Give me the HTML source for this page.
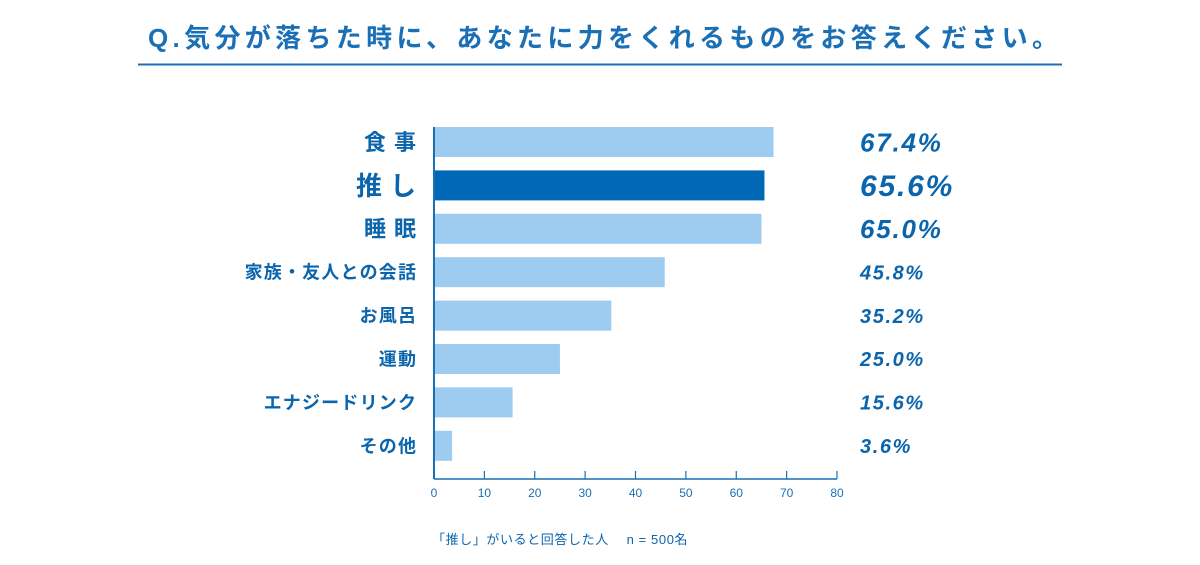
<!DOCTYPE html>
<html><head><meta charset="utf-8"><style>
body{margin:0;background:#fff;}
svg text{font-family:"Liberation Sans","Noto Sans CJK JP",sans-serif;}
</style></head><body>
<svg id="chart" width="1200" height="560" xmlns="http://www.w3.org/2000/svg">
<text x="148" y="47" font-size="26" font-weight="bold" fill="#1a6fb5" textLength="910" lengthAdjust="spacing">Q.気分が落ちた時に、あなたに力をくれるものをお答えください。</text>
<line x1="138" y1="64.5" x2="1062" y2="64.5" stroke="#1a6fb5" stroke-width="2"/>
<g id="bars"></g>
<text x="432" y="544" font-size="13" fill="#0b65ad" letter-spacing="0.6">「推し」がいると回答した人　 n = 500名</text>
</svg>
<script>
const categories=["食事","推し","睡眠","家族・友人との会話","お風呂","運動","エナジードリンク","その他"];
const values=[67.4,65.6,65.0,45.8,35.2,25.0,15.6,3.6];
const valueLabels=["67.4%","65.6%","65.0%","45.8%","35.2%","25.0%","15.6%","3.6%"];
const ticks=[0,10,20,30,40,50,60,70,80];
const NS="http://www.w3.org/2000/svg";
const g=document.getElementById('bars');
const x=v=>434+v*(837-434)/80;
const y=i=>142+i*43.4;
function mk(t,a,p){const e=document.createElementNS(NS,t);for(const k in a)e.setAttribute(k,a[k]);(p||g).appendChild(e);return e;}
categories.forEach((c,i)=>{
 const r=mk('rect',{x:x(0),y:y(i)-15,width:x(values[i])-x(0),height:30,fill:i===1?'#0068b7':'#9dccf0'});
 
 
 const big=i<3;
 const fs=i===1?26:(big?22:18);
 const ls=big?8:1.2;
 const l=mk('text',{x:416+ls,y:y(i)+fs*0.36,'text-anchor':'end','font-size':fs,'font-weight':'bold',fill:'#0b65ad','letter-spacing':ls});
 l.textContent=c;
 
 
 const vs=i===1?30:(big?26:20);
 const v=mk('text',{x:860,y:y(i)+vs*0.36,'font-size':vs,'font-weight':'bold','font-style':'italic',fill:'#0b65ad','letter-spacing':big?1.8:1.6});
 v.textContent=valueLabels[i];
 
 
});
const ax=mk('line',{x1:434,y1:127,x2:434,y2:479,stroke:'#1a6fb5','stroke-width':2});


const xa=mk('line',{x1:434,y1:479,x2:837,y2:479,stroke:'#1a6fb5','stroke-width':1.5});


ticks.forEach(t=>{
 const tk=mk('line',{x1:x(t),y1:471,x2:x(t),y2:479,stroke:'#1a6fb5','stroke-width':1.2});
 
 
 const tl=mk('text',{x:x(t),y:497,'text-anchor':'middle','font-size':12,fill:'#1a6fb5'});
 tl.textContent=t;
 
 
});
</script>
</body></html>
